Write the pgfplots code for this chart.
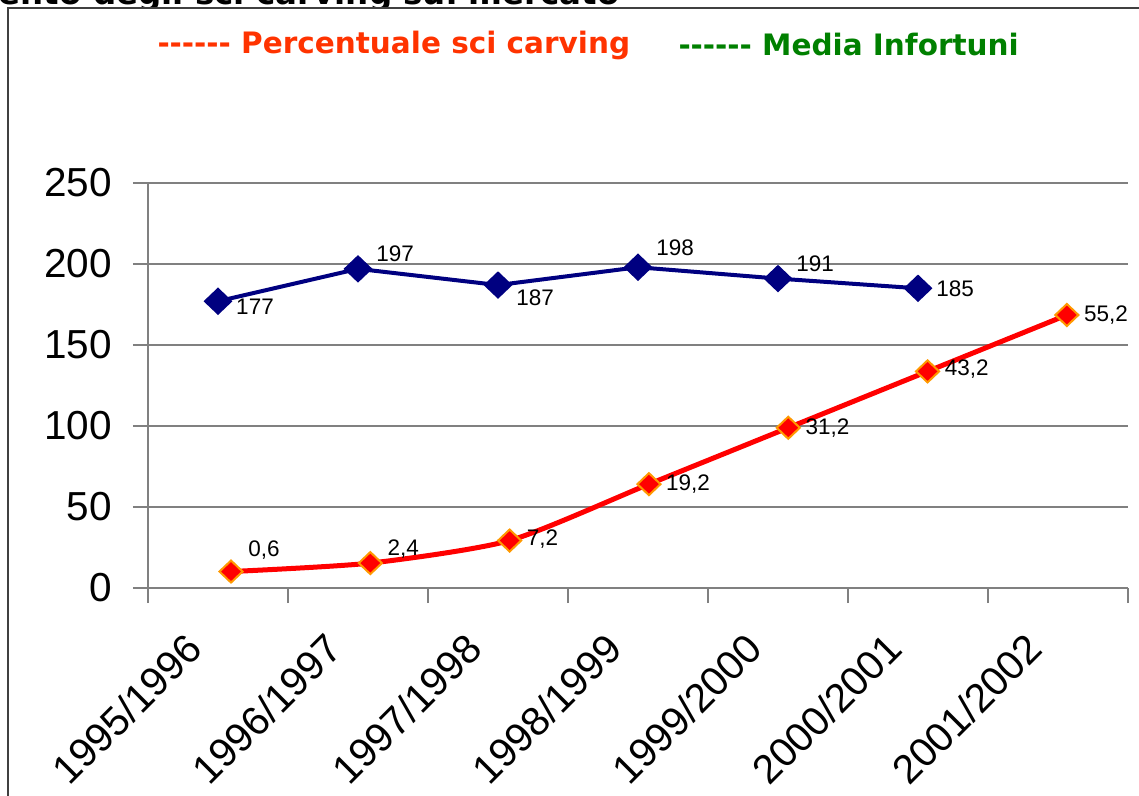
\documentclass[border=0pt]{standalone}
\usepackage{fontspec}
\setmainfont{Liberation Sans}
\newfontfamily\legfont{DejaVu Sans}
\usepackage{pgfplots}
\usepackage{pgfplotstable}
\pgfplotsset{compat=1.18}
\definecolor{cblue}{HTML}{000080}
\definecolor{cred}{HTML}{FF0000}
\definecolor{cedge}{HTML}{FF9900}
\definecolor{clegred}{HTML}{FF3300}
\definecolor{cleggreen}{HTML}{008000}
\definecolor{cgrid}{HTML}{808080}
\definecolor{cframe}{HTML}{404040}

% media infortuni: x, valore, spostamento etichetta (pt)
\pgfplotstableread{
x y lab dy
0 177 177 -2.4
1 197 197 6.0
2 187 187 -5.2
3 198 198 7.6
4 191 191 6.0
5 185 185 0
}\blue
% percentuale sci carving
\pgfplotstableread{
x y lab dy
0 0.6 0,6 8.4
1 2.4 2,4 5.6
2 7.2 7,2 0.4
3 19.2 19,2 0
4 31.2 31,2 0
5 43.2 43,2 0.8
6 55.2 55,2 0
}\carving

\begin{document}
\begin{tikzpicture}
\useasboundingbox (-59.2pt,-83.2pt) rectangle (396.4pt,235.2pt);
% cornice della slide
\draw[cframe, line width=0.8pt] (-56pt,-90pt) -- (-56pt,232pt) -- (400pt,232pt);
% titolo tagliato in alto
\begin{scope}
\clip (-59.2pt,232.4pt) rectangle (396.4pt,235.2pt);
\node[anchor=base east, inner sep=0, font=\legfont\bfseries\fontsize{13}{15}\selectfont] at (188.8pt,233.3pt) {Andamento degli sci carving sul mercato};
\end{scope}

\begin{axis}[
    scale only axis, width=392pt, height=162pt,
    at={(0,0)}, anchor=south west,
    xmin=-0.5, xmax=6.5, ymin=0, ymax=250,
    axis x line=bottom, axis y line=left,
    axis line style={cgrid, line width=0.6pt, -},
    xtick={-0.5,0.5,...,6.5},
    x tick label as interval,
    xticklabels={1995/1996,1996/1997,1997/1998,1998/1999,1999/2000,2000/2001,2001/2002},
    ytick={0,50,...,250},
    tick align=outside, major tick length=6pt,
    tick style={cgrid, line width=0.6pt},
    ymajorgrids, grid style={cgrid, line width=0.6pt},
    tick label style={font=\fontsize{16.2}{18}\selectfont},
    yticklabel style={xshift=-5pt},
    xticklabel style={xshift=-13.6pt, yshift=-9.4pt, rotate=45, anchor=north east, inner sep=1pt},
    /pgf/number format/assume math mode=true,
    clip=false,
]
\addplot[cblue, line width=1.6pt, mark=diamond*, mark size=4.4pt,
    mark options={xscale=1.4},
    nodes near coords, point meta=explicit symbolic,
    visualization depends on={\thisrow{dy}\as\dy},
    every node near coord/.style={anchor=west, inner sep=0, xshift=6.5pt, yshift=\dy pt,
      black, font=\fontsize{9}{11}\selectfont},
] table[x=x, y=y, meta=lab] {\blue};
\end{axis}

\begin{axis}[
    scale only axis, width=392pt, height=162pt,
    at={(0,0)}, anchor=south west,
    xmin=-0.596, xmax=6.439, ymin=-2.9, ymax=83.3,
    hide axis, clip=false,
]
\addplot[cred, line width=2pt, smooth, tension=0.4, mark=diamond*, mark size=4.4pt,
    mark options={xscale=1.4, fill=cred, draw=cedge, line width=0.8pt, solid},
    nodes near coords, point meta=explicit symbolic,
    visualization depends on={\thisrow{dy}\as\dy},
    every node near coord/.style={anchor=west, inner sep=0, xshift=6.5pt, yshift=\dy pt,
      black, font=\fontsize{9}{11}\selectfont},
] table[x=x, y=y, meta=lab] {\carving};
\end{axis}

% legenda in alto
\node[anchor=west, inner sep=0, text=clegred, font=\legfont\bfseries\fontsize{11.8}{14}\selectfont] at (3.6pt,217.2pt) {------ Percentuale sci carving};
\node[anchor=west, inner sep=0, text=cleggreen, font=\legfont\bfseries\fontsize{11.8}{14}\selectfont] at (212pt,217.2pt) {------ Media Infortuni};
\end{tikzpicture}
\end{document}
